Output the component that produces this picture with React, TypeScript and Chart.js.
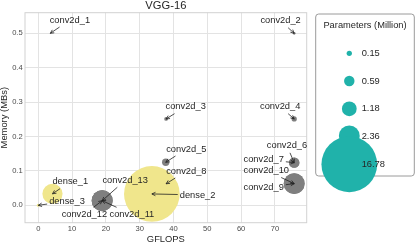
import React, { useEffect, useRef } from 'react';
import { Chart, registerables } from 'chart.js';

Chart.register(...registerables);

// ---------------- data ----------------
const convLayers = ['conv2d_1', 'conv2d_2', 'conv2d_3', 'conv2d_4', 'conv2d_5', 'conv2d_6', 'conv2d_7', 'conv2d_8', 'conv2d_9', 'conv2d_10', 'conv2d_11', 'conv2d_12', 'conv2d_13'];
const convGflops = [3.55, 75.7, 37.8, 75.7, 37.7, 75.7, 75.7, 37.8, 75.7, 75.7, 18.9, 18.9, 18.9];
const convMemory = [0.5, 0.5, 0.251, 0.251, 0.125, 0.124, 0.124, 0.0625, 0.063, 0.063, 0.0134, 0.0134, 0.0134];
const convParams = [0.0018, 0.037, 0.074, 0.148, 0.295, 0.59, 0.59, 1.18, 2.36, 2.36, 2.36, 2.36, 2.36];

const denseLayers = ['dense_1', 'dense_2', 'dense_3'];
const denseGflops = [4.2, 33.6, 0.0];
const denseMemory = [0.0334, 0.033, 0.0];
const denseParams = [2.2, 16.78, 0.05];

const legendParams = [0.15, 0.59, 1.18, 2.36, 16.78];
const legendLabels = ['0.15', '0.59', '1.18', '2.36', '16.78'];

const xTicks = [0, 10, 20, 30, 40, 50, 60, 70];
const yTicks = [0.0, 0.1, 0.2, 0.3, 0.4, 0.5];

const chartTitle = 'VGG-16';
const xTitle = 'GFLOPS';
const yTitle = 'Memory (MBs)';
const legendTitle = 'Parameters (Million)';

// ---------------- layout / style ----------------
// label text-centre offsets from the annotated point, in pixels
const convLabelOffsets: [number, number][] = [
  [19.6, -13.3], [-13.6, -12.6], [19.6, -12.3], [-14, -12.3], [20.6, -13.3],
  [-7.2, -16.8], [-30.5, -3.2], [20.3, -12.8], [-30.5, 3.9], [-27.9, -13.1],
  [29.7, 13.6], [-17.8, 13.6], [23, -20.4],
];
const denseLabelOffsets: [number, number][] = [[17.8, -12.1], [45.7, 1], [28.7, -4]];

const FONT = '"Liberation Sans", Arial, Helvetica, sans-serif';
const CONV_COLOR = '#7f7f7f';
const DENSE_COLOR = '#f0e68c';
const LEGEND_COLOR = '#20b2aa';
const GRID_COLOR = '#e3e3e3';
const SPINE_COLOR = '#d2d2d2';
const TEXT_COLOR = '#262626';
const TICK_COLOR = '#4a4a4a';
const SIZE_K = 6.8;
const radius = (p: number) => SIZE_K * Math.sqrt(p);

const framePlugin = {
  id: 'frame',
  beforeDatasetsDraw(chart: any) {
    const { ctx, chartArea: a } = chart;
    ctx.save();
    ctx.strokeStyle = SPINE_COLOR;
    ctx.lineWidth = 1;
    ctx.strokeRect(a.left, a.top, a.right - a.left, a.bottom - a.top);
    ctx.restore();
  },
};

function drawArrow(ctx: CanvasRenderingContext2D, sx: number, sy: number, ex: number, ey: number) {
  ctx.beginPath();
  ctx.moveTo(sx, sy);
  ctx.lineTo(ex, ey);
  ctx.stroke();
  const ang = Math.atan2(ey - sy, ex - sx);
  const hl = 4;
  const spread = 0.45;
  ctx.beginPath();
  ctx.moveTo(ex - hl * Math.cos(ang - spread), ey - hl * Math.sin(ang - spread));
  ctx.lineTo(ex, ey);
  ctx.lineTo(ex - hl * Math.cos(ang + spread), ey - hl * Math.sin(ang + spread));
  ctx.stroke();
}

const annotPlugin = {
  id: 'annot',
  afterDatasetsDraw(chart: any) {
    const { ctx } = chart;
    const xs = chart.scales.x;
    const ys = chart.scales.y;
    ctx.save();
    ctx.font = `9.3px ${FONT}`;
    ctx.textAlign = 'center';
    ctx.textBaseline = 'middle';
    const items: { name: string; x: number; y: number; off: [number, number] }[] = [];
    convLayers.forEach((n, i) => items.push({ name: n, x: convGflops[i], y: convMemory[i], off: convLabelOffsets[i] }));
    denseLayers.forEach((n, i) => items.push({ name: n, x: denseGflops[i], y: denseMemory[i], off: denseLabelOffsets[i] }));
    items.forEach((it) => {
      const px = xs.getPixelForValue(it.x);
      const py = ys.getPixelForValue(it.y);
      const tx = px + it.off[0];
      const ty = py + it.off[1];
      const w = ctx.measureText(it.name).width;
      const hw = w / 2 + 2;
      const hh = 7;
      const dx = px - tx;
      const dy = py - ty;
      let t = 1;
      if (Math.abs(dx) > 1e-6) t = Math.min(t, hw / Math.abs(dx));
      if (Math.abs(dy) > 1e-6) t = Math.min(t, hh / Math.abs(dy));
      const sx = tx + dx * t;
      const sy = ty + dy * t;
      ctx.strokeStyle = '#222';
      ctx.lineWidth = 0.8;
      drawArrow(ctx, sx, sy, px, py);
      ctx.fillStyle = TEXT_COLOR;
      ctx.fillText(it.name, tx, ty);
    });
    ctx.restore();
  },
};

const decorPlugin = {
  id: 'decor',
  afterDraw(chart: any) {
    const { ctx, chartArea: a } = chart;
    ctx.save();
    // title
    ctx.fillStyle = TEXT_COLOR;
    ctx.textAlign = 'center';
    ctx.textBaseline = 'alphabetic';
    ctx.font = `11.2px ${FONT}`;
    ctx.fillText(chartTitle, (a.left + a.right) / 2, 9);
    // axis titles
    ctx.font = `9.4px ${FONT}`;
    ctx.textBaseline = 'middle';
    ctx.fillText(xTitle, (a.left + a.right) / 2, 239.5);
    ctx.save();
    ctx.translate(4.7, (a.top + a.bottom) / 2);
    ctx.rotate(-Math.PI / 2);
    ctx.fillText(yTitle, 0, 0);
    ctx.restore();

    // legend
    const bx = 315.7, by = 14, bw = 98.6, bh = 162;
    ctx.beginPath();
    ctx.roundRect(bx, by, bw, bh, 3);
    ctx.fillStyle = 'rgba(255,255,255,0.85)';
    ctx.fill();
    ctx.strokeStyle = '#9a9a9a';
    ctx.lineWidth = 1;
    ctx.stroke();
    ctx.fillStyle = TEXT_COLOR;
    ctx.font = `9.3px ${FONT}`;
    ctx.textAlign = 'center';
    ctx.fillText(legendTitle, 365, 25);
    const rowsY = [53.3, 81, 108.8, 136, 164.3];
    ctx.fillStyle = LEGEND_COLOR;
    legendParams.forEach((p, i) => {
      ctx.beginPath();
      ctx.arc(349.3, rowsY[i], radius(p), 0, Math.PI * 2);
      ctx.fill();
    });
    ctx.fillStyle = TEXT_COLOR;
    ctx.textAlign = 'left';
    legendLabels.forEach((l, i) => {
      ctx.fillText(l, 361.7, rowsY[i]);
    });
    ctx.restore();
  },
};

export default function App() {
  const ref = useRef<HTMLCanvasElement | null>(null);
  useEffect(() => {
    if (!ref.current) return;
    const chart = new Chart(ref.current, {
      type: 'bubble',
      data: {
        datasets: [
          {
            label: 'dense',
            data: denseLayers.map((_, i) => ({ x: denseGflops[i], y: denseMemory[i], r: radius(denseParams[i]) })),
            backgroundColor: DENSE_COLOR,
            borderColor: DENSE_COLOR,
            borderWidth: 0,
            order: 0,
            clip: 0,
          } as any,
          {
            label: 'conv',
            data: convLayers.map((_, i) => ({ x: convGflops[i], y: convMemory[i], r: radius(convParams[i]) })),
            backgroundColor: CONV_COLOR,
            borderColor: CONV_COLOR,
            borderWidth: 0,
            order: 1,
            clip: 0,
          } as any,
        ],
      },
      options: {
        responsive: false,
        animation: false,
        events: [],
        layout: { autoPadding: false, padding: { left: 0, top: 12.7, right: 108.3, bottom: 0 } },
        plugins: { legend: { display: false }, tooltip: { enabled: false }, title: { display: false } },
        scales: {
          x: {
            type: 'linear',
            position: 'bottom',
            min: -3.93,
            max: 79.4,
            afterBuildTicks: (s: any) => { s.ticks = xTicks.map((v) => ({ value: v })); },
            afterFit: (s: any) => { s.height = 22.3; },
            ticks: { padding: 2, color: TICK_COLOR, font: { family: FONT, size: 7.6 }, maxRotation: 0, autoSkip: false, callback: (v: any) => String(v) },
            grid: { color: GRID_COLOR, lineWidth: 1, drawTicks: false },
            border: { display: false },
          },
          y: {
            type: 'linear',
            position: 'left',
            min: -0.0506,
            max: 0.56,
            afterBuildTicks: (s: any) => { s.ticks = yTicks.map((v) => ({ value: v })); },
            afterFit: (s: any) => { s.width = 25; },
            ticks: { padding: 2.3, color: TICK_COLOR, font: { family: FONT, size: 7.6 }, autoSkip: false, callback: (v: any) => Number(v).toFixed(1) },
            grid: { color: GRID_COLOR, lineWidth: 1, drawTicks: false },
            border: { display: false },
          },
        },
      } as any,
      plugins: [framePlugin, annotPlugin, decorPlugin],
    });
    return () => chart.destroy();
  }, []);
  return (
    <div style={{ position: 'fixed', left: 0, top: 0, width: 415, height: 245, background: '#fff' }}>
      <canvas ref={ref} width={415} height={245} style={{ display: 'block' }} />
    </div>
  );
}
